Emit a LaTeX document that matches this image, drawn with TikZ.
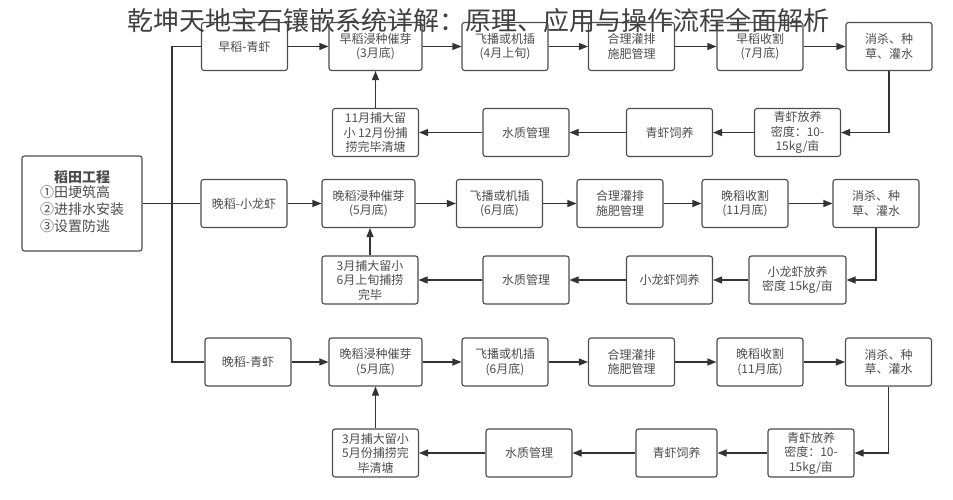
\documentclass[tikz,border=0pt]{standalone}
\usepackage{fontspec}
\setmainfont{Noto Sans CJK SC}
\usetikzlibrary{arrows.meta, positioning}

\begin{document}
\begin{tikzpicture}[x=1pt, y=-1pt,
		box/.style={draw=black!70, line width=1.1pt, rounded corners=2.5pt, minimum width=86pt, minimum height=48pt,
			align=center, inner sep=2pt, text=black!70, font=\fontsize{12}{14.5}\selectfont},
		link/.style={draw=black!80, line width=1.1pt},
		arr/.style={link, -{Triangle[length=9pt, width=7pt]}},
		every edge/.style={arr}]

	\useasboundingbox (0,0) rectangle (953,500);

	% Nodes
	\node[box, minimum width=120pt, minimum height=95pt, font=\fontsize{14}{16.8}\selectfont] (main) at (82,203.5)
		{{\bfseries 稻田工程}\\[1pt]\begin{tabular}{@{}l@{}}①田埂筑高\\②进排水安装\\③设置防逃\end{tabular}};
	\coordinate (bx) at (172,0);

	% early rice - shrimp
	\node[box] (e1) at (244.5,46.5) {早稻-青虾};
	\node[box, minimum width=93pt] (s1) at (375.5,46.5) {早稻浸种催芽\\(3月底)};
	\node[box] (f1) at (505,46.5) {飞播或机插\\(4月上旬)};
	\node[box] (g1) at (631.5,46.5) {合理灌排\\施肥管理};
	\node[box] (h1) at (760,46.5) {早稻收割\\(7月底)};
	\node[box] (x1) at (889,46.5) {消杀、种\\草、灌水};
	\node[box] (p1) at (797.5,132.5) {青虾放养\\密度：10-\\15kg/亩};
	\node[box] (w1) at (669.5,132.5) {青虾饲养};
	\node[box] (q1) at (526,132.5) {水质管理};
	\node[box] (c1) at (375.5,132.5) {11月捕大留\\小 12月份捕\\捞完毕清塘};

	% late rice - crayfish
	\node[box] (e2) at (244,203.5) {晚稻-小龙虾};
	\node[box, minimum width=93pt] (s2) at (368.5,203.5) {晚稻浸种催芽\\(5月底)};
	\node[box] (f2) at (499.5,203.5) {飞播或机插\\(6月底)};
	\node[box] (g2) at (620,203.5) {合理灌排\\施肥管理};
	\node[box] (h2) at (745,203.5) {晚稻收割\\(11月底)};
	\node[box] (x2) at (876,203.5) {消杀、种\\草、灌水};
	\node[box, minimum width=97pt] (p2) at (797.5,280) {小龙虾放养\\密度 15kg/亩};
	\node[box] (w2) at (669.5,280) {小龙虾饲养};
	\node[box] (q2) at (526,280) {水质管理};
	\node[box, minimum width=96pt] (c2) at (370,280) {3月捕大留小\\6月上旬捕捞\\完毕};

	% late rice - shrimp
	\node[box] (e3) at (248,362) {晚稻-青虾};
	\node[box, minimum width=93pt] (s3) at (375.5,362) {晚稻浸种催芽\\(5月底)};
	\node[box] (f3) at (505,362) {飞播或机插\\(6月底)};
	\node[box] (g3) at (631.5,362) {合理灌排\\施肥管理};
	\node[box] (h3) at (760,362) {晚稻收割\\(11月底)};
	\node[box] (x3) at (888.5,362) {消杀、种\\草、灌水};
	\node[box] (p3) at (811,453) {青虾放养\\密度：10-\\15kg/亩};
	\node[box, minimum width=81pt] (w3) at (676.5,453) {青虾饲养};
	\node[box] (q3) at (529,453) {水质管理};
	\node[box] (c3) at (375.5,453) {3月捕大留小\\5月份捕捞完\\毕清塘};

	% Edges
	\draw[link] (e1.west) -- (e1.west -| bx) -- (e3.west -| bx) -- (e3.west);
	\draw[link] (main.east) -- (e2.west);

	\draw (e1) edge (s1) (s1) edge (f1) (f1) edge (g1) (g1) edge (h1) (h1) edge (x1);
	\draw[arr] (x1.south) |- (p1.east);
	\draw (p1) edge (w1) (w1) edge (q1) (q1) edge (c1) (c1) edge (s1);

	\draw (e2) edge (s2) (s2) edge (f2) (f2) edge (g2) (g2) edge (h2) (h2) edge (x2);
	\draw[arr] (x2.south) |- (p2.east);
	\draw (p2) edge (w2) (w2) edge (q2) (q2) edge (c2) (c2.north) edge (c2.north |- s2.south);

	\draw (e3) edge (s3) (s3) edge (f3) (f3) edge (g3) (g3) edge (h3) (h3) edge (x3);
	\draw[arr] (x3.south) |- (p3.east);
	\draw (p3) edge (w3) (w3) edge (q3) (q3) edge (c3) (c3) edge (s3);

	% title over the chart
	\node[text=black!75, font=\fontsize{26}{30}\selectfont, inner sep=0pt] (title) at (478,21)
		{乾坤天地宝石镶嵌系统详解：原理、应用与操作流程全面解析};
\end{tikzpicture}
\end{document}
